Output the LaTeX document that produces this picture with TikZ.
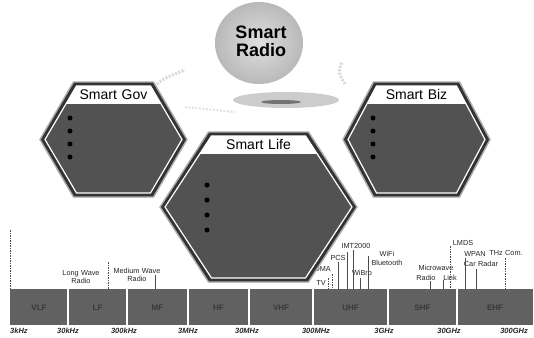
\documentclass[tikz,border=0pt]{standalone}
\usepackage{fontspec}
\setmainfont{Liberation Sans}
\tikzset{
  hexp/.style n args={5}{insert path={({#1-(#3)},{#2}) -- ({#1-(#5)},{#2-(#4)}) -- ({#1+(#5)},{#2-(#4)}) -- ({#1+(#3)},{#2}) -- ({#1+(#5)},{#2+(#4)}) -- ({#1-(#5)},{#2+(#4)}) -- cycle}},
  hextitle/.style={font=\fontsize{14}{16}\selectfont, inner sep=0pt, text=black},
  lbl/.style={font=\fontsize{7.3}{8.5}\selectfont, inner sep=0pt, align=center, text=black!85},
  freq/.style={font=\fontsize{7.5}{8}\selectfont\bfseries\itshape, inner sep=0pt, text=black!85},
  band/.style={font=\fontsize{8}{9}\selectfont\bfseries, inner sep=0pt, text=black!78},
  tick/.style={draw=black!70, line width=0.5pt},
  dtick/.style={draw=black!70, line width=0.5pt, dash pattern=on 1.5pt off 1pt},
  bullet/.style={circle, fill=black, inner sep=0pt, minimum size=5pt},
  swoosh/.style={draw=gray!30, line width=3pt, dash pattern=on 2pt off 1.5pt}
}
\newcommand\smarthex[7]{%
  \path[fill=black!80, draw=gray!65, line width=1.4pt][hexp={#2}{#3}{#4}{#5}{#6}];
  \path[fill=black!68, draw=white, line width=1.2pt][hexp={#2}{#3}{#4-5}{#5-4}{#6-3}];
  \begin{scope}
    \clip[hexp={#2}{#3}{#4-5}{#5-4}{#6-3}];
    \fill[white] ({#2-(#4)},{#3-(#5)}) rectangle ({#2+(#4)},{#3-(#5)+22});
  \end{scope}
  \node[hextitle] (#1) at ({#2},{#3-(#5)+12.5}) {#7};
}
\begin{document}
\begin{tikzpicture}[x=1pt,y=-1pt]
\useasboundingbox (0,0) rectangle (534,337);
\fill[white] (0,0) rectangle (534,337);

% sphere and its shadow
\fill[gray!40] (286,100) ellipse [x radius=53pt, y radius=8pt];
\fill[black!55] (281,102) ellipse [x radius=20pt, y radius=2pt];
\shade[inner color=gray!25, outer color=gray!55] (259,43) ellipse [x radius=44pt, y radius=41pt];
\node[font=\fontsize{18}{19}\selectfont\bfseries, align=center, inner sep=0pt] (radio) at (261,41) {Smart\\[-1pt]Radio};

% faint swooshes
\coordinate (sw1) at (150,92);
\coordinate (sw2) at (185,70);
\coordinate (sw3) at (345,84);
\coordinate (sw4) at (342,62);
\draw[swoosh] (sw1) .. controls (160,80) .. (sw2);
\draw[swoosh] (sw3) .. controls (338,72) .. (sw4);
\draw[swoosh, draw=gray!22, line width=2pt] (185,107) -- (235,112);

% side hexagons
\smarthex{gov}{113.5}{139.5}{73.5}{57.5}{40}{Smart\,\,Gov}
\smarthex{biz}{416.5}{139.5}{73.5}{57.5}{43}{Smart\,\,Biz}
\foreach \yy [count=\i] in {118,131,144,157}{
  \node[bullet] (gb\i) at (70,\yy) {};
  \node[bullet] (bb\i) at (373,\yy) {};
}

% frequency labels and ticks above the bar
\node[lbl] (lw) at (81,277) {Long\,\,Wave\\Radio};
\node[lbl] (mw) at (137,275) {Medium\,\,Wave\\Radio};
\node[lbl, anchor=east] (cdma) at (331,269) {CDMA};
\node[lbl] (pcs) at (338,258) {PCS};
\node[lbl] (imt) at (356,246) {IMT2000};
\node[lbl] (tv) at (321,283) {TV};
\node[lbl] (wibro) at (362,273) {WiBro};
\node[lbl] (wifi) at (387,258.5) {WiFi\\Bluetooth};
\node[lbl] (micro) at (436,268) {Microwave};
\node[lbl] (mradio) at (426,277.5) {Radio};
\node[lbl] (mlink) at (450,277.5) {Link};
\node[lbl] (lmds) at (463,243) {LMDS};
\node[lbl] (wpan) at (475,254) {WPAN};
\node[lbl] (thz) at (506,253) {THz\,\,Com.};
\node[lbl] (car) at (481,264) {Car\,\,Radar};

\draw[dtick] (10,230) -- (10,289);
\draw[dtick] (108,262) -- (108,289);
\draw[tick] (155,275) -- (155,289);
\draw[dtick] (328,278) -- (328,289);
\draw[dtick] (332,274) -- (332,289);
\draw[tick] (338,262) -- (338,289);
\draw[tick] (347,252) -- (347,289);
\draw[tick] (353,250) -- (353,289);
\draw[tick] (360,278) -- (360,289);
\draw[tick] (368,256) -- (368,289);
\draw[tick] (430,281) -- (430,289);
\draw[tick] (443,280) -- (443,289);
\draw[dtick] (450,246) -- (450,289);
\draw[tick] (465,258) -- (465,289);
\draw[tick] (476,269) -- (476,289);
\draw[dtick] (505,258) -- (505,289);

% central hexagon
\smarthex{life}{258.5}{207}{98.5}{75}{50}{Smart\,\,Life}
\foreach \yy [count=\i] in {185,200,215,230}{
  \node[bullet] (lb\i) at (207,\yy) {};
}

% spectrum bar
\fill[black!62] (10,289) rectangle (533,325);
\foreach \xx in {68,127,188,249,313,388,457}{
  \draw[white, line width=1.5pt] (\xx,289) -- (\xx,325);
}
\foreach \nm/\xx in {VLF/39,LF/97.5,MF/157.5,HF/218.5,VHF/281,UHF/350.5,SHF/422.5,EHF/495}{
  \node[band] (b\nm) at (\xx,308) {\nm};
}
\node[freq, anchor=west] (f1) at (10,331) {3kHz};
\node[freq] (f2) at (68,331) {30kHz};
\node[freq] (f3) at (124,331) {300kHz};
\node[freq] (f4) at (188,331) {3MHz};
\node[freq] (f5) at (247,331) {30MHz};
\node[freq] (f6) at (316,331) {300MHz};
\node[freq] (f7) at (384,331) {3GHz};
\node[freq] (f8) at (449,331) {30GHz};
\node[freq] (f9) at (514,331) {300GHz};
\end{tikzpicture}
\end{document}
